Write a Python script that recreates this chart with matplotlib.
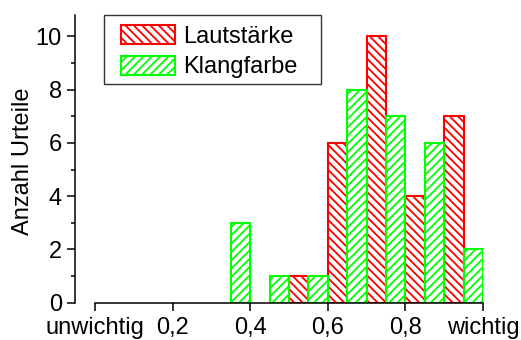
import matplotlib
matplotlib.use("Agg")
import matplotlib.pyplot as plt
from matplotlib.patches import Rectangle

plt.rcParams['font.family'] = ['Liberation Sans', 'DejaVu Sans']
plt.rcParams['hatch.linewidth'] = 1.3

# Data
bin_width = 0.05
laut_left = [0.50, 0.60, 0.70, 0.80, 0.90]
laut_counts = [1, 6, 10, 4, 7]
klang_left = [0.35, 0.45, 0.55, 0.65, 0.75, 0.85, 0.95]
klang_counts = [3, 1, 1, 8, 7, 6, 2]
xtick_vals = [0.0, 0.2, 0.4, 0.6, 0.8, 1.0]
xtick_labels = ['unwichtig', '0,2', '0,4', '0,6', '0,8', 'wichtig']
ytick_vals = [0, 2, 4, 6, 8, 10]
labels = ['Lautstärke', 'Klangfarbe']

fs = 17
fig = plt.figure(figsize=(5.21, 3.40), dpi=100)
ax = fig.add_axes([75/521, 1-302.7/340, (483-75)/521, (302.7-15)/340])

ax.bar(laut_left, laut_counts, width=bin_width, align='edge', facecolor='white',
       edgecolor='#ff0000', hatch='\\\\\\\\', linewidth=1.5, label=labels[0])
ax.bar(klang_left, klang_counts, width=bin_width, align='edge', facecolor='white',
       edgecolor='#00ff00', hatch='////', linewidth=1.5, label=labels[1])

ax.set_xlim(-0.0513, 1.0)
ax.set_ylim(0, 10.8)
for s in ['top', 'right']:
    ax.spines[s].set_visible(False)
ax.spines['bottom'].set_bounds(0, 1.0)
for s in ['left', 'bottom']:
    ax.spines[s].set_linewidth(1.1)

ax.set_xticks(xtick_vals)
ax.set_xticklabels(xtick_labels)
ax.set_yticks(ytick_vals)
ax.set_yticks([1, 3, 5, 7, 9], minor=True)
ax.tick_params(axis='both', which='major', direction='out', length=6, width=1.1,
               labelsize=fs)
ax.tick_params(axis='y', which='major', pad=3.5)
ax.tick_params(axis='x', which='major', pad=4.5)
ax.tick_params(axis='y', which='minor', direction='out', length=3, width=1.1)

ax.set_ylabel('Anzahl Urteile', fontsize=fs)
ax.yaxis.set_label_coords(-0.100, 0.4925)

# legend frame drawn as fixed box
ax.add_patch(Rectangle((0.0711, 0.760), 0.603 - 0.0711, 1.0 - 0.760,
                       transform=ax.transAxes, facecolor='white',
                       edgecolor='#333333', linewidth=1.0, clip_on=False, zorder=4))
leg = ax.legend(loc='upper left', bbox_to_anchor=(0.112, 0.965), borderaxespad=0,
                fontsize=fs, frameon=False,
                handlelength=2.3, handleheight=0.87, handletextpad=0.33,
                labelspacing=0.33, borderpad=0)
leg.set_zorder(5)

fig.savefig('out.png', dpi=100)
